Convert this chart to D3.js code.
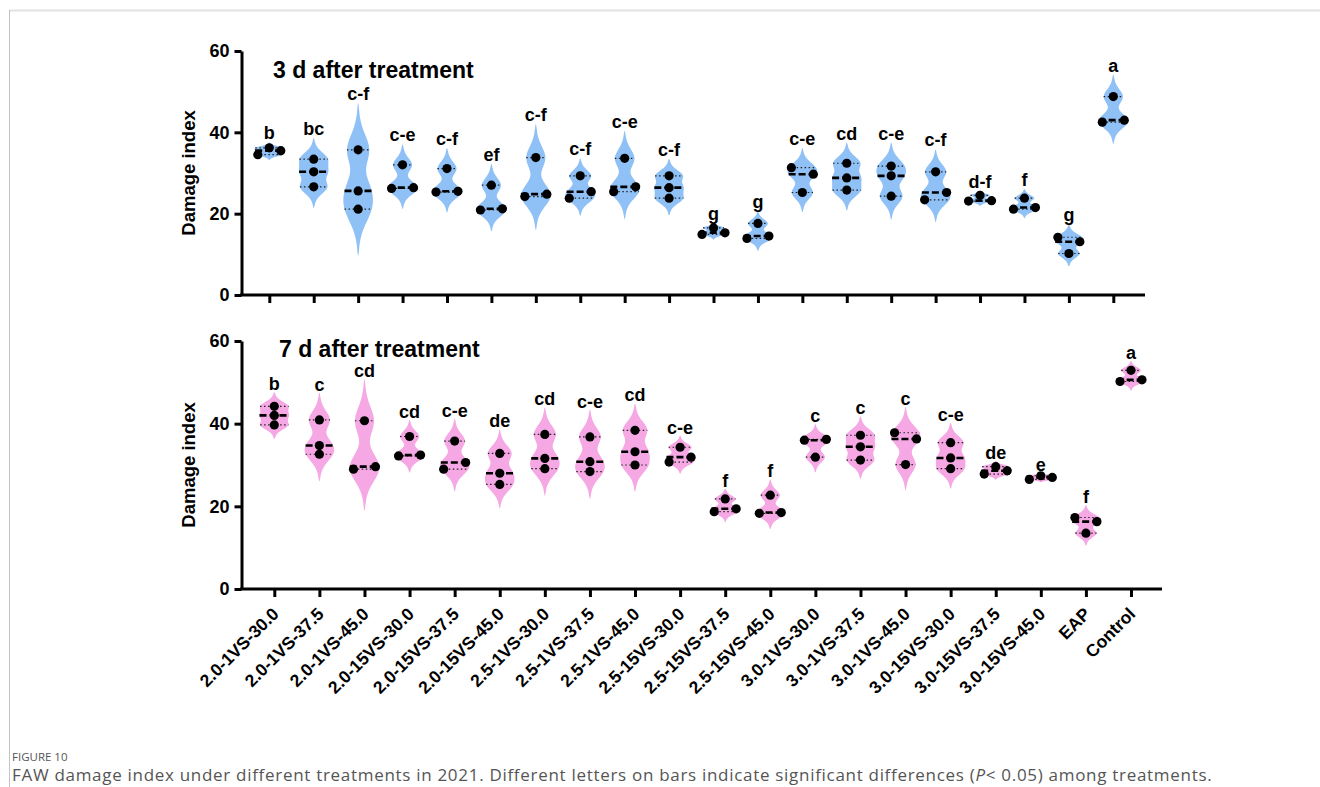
<!DOCTYPE html>
<html lang="en">
<head>
    <meta charset="UTF-8">
    <title>FAW damage index 2021</title>
    <script src="https://d3js.org/d3.v7.min.js"></script>
    <style>
        body { margin: 0; background: #fff; }
        svg { display: block; }
        .axis path, .axis line { stroke: #000; stroke-width: 3; }
        .axis text { font-family: "Liberation Sans", Arial, sans-serif; font-weight: bold; font-size: 18px; fill: #000; }
        .xlab text { font-size: 17.5px; }
        .letter { font-family: "Liberation Sans", Arial, sans-serif; font-weight: bold; font-size: 18px; }
        .ptitle { font-family: "Liberation Sans", Arial, sans-serif; font-weight: bold; font-size: 23px; }
        .ylab { font-family: "Liberation Sans", Arial, sans-serif; font-weight: bold; font-size: 18.5px; }
        .caption { font-family: "Open Sans", sans-serif; fill: #555; }
    </style>
</head>
<body>
<div id="chart"></div>
<script>
// treatments, in the order of the x axis
var categories = ["2.0-1VS-30.0", "2.0-1VS-37.5", "2.0-1VS-45.0", "2.0-15VS-30.0", "2.0-15VS-37.5",
    "2.0-15VS-45.0", "2.5-1VS-30.0", "2.5-1VS-37.5", "2.5-1VS-45.0", "2.5-15VS-30.0",
    "2.5-15VS-37.5", "2.5-15VS-45.0", "3.0-1VS-30.0", "3.0-1VS-37.5", "3.0-1VS-45.0",
    "3.0-15VS-30.0", "3.0-15VS-37.5", "3.0-15VS-45.0", "EAP", "Control"];

// damage index, 3 replicates each
var day3Values = [
    [34.5, 36.2, 35.5], [33.4, 30.3, 26.6], [35.7, 25.6, 21.1], [32.0, 26.2, 26.4], [31.1, 25.3, 25.5],
    [27.0, 20.9, 21.2], [33.8, 24.2, 24.8], [29.3, 23.8, 25.4], [33.6, 25.4, 26.6], [29.3, 26.4, 23.8],
    [14.9, 16.5, 15.3], [17.6, 13.9, 14.5], [31.3, 29.7, 25.2], [32.4, 28.8, 25.8], [31.7, 29.3, 24.3],
    [23.4, 30.3, 25.2], [23.1, 24.5, 23.2], [21.1, 23.8, 21.5], [14.2, 13.1, 10.2], [42.5, 48.8, 43.0]
];
var day7Values = [
    [44.2, 42.0, 39.7], [40.9, 34.7, 32.6], [29.0, 40.7, 29.6], [32.2, 36.9, 32.4], [29.0, 35.8, 30.6],
    [32.8, 28.0, 25.3], [37.4, 31.6, 29.1], [36.8, 30.8, 28.4], [38.4, 33.2, 30.0], [30.7, 34.3, 31.9],
    [18.7, 21.8, 19.4], [18.3, 22.7, 18.5], [36.0, 31.9, 36.2], [37.2, 34.4, 31.2], [37.8, 30.1, 36.3],
    [35.4, 31.7, 29.1], [27.8, 29.6, 28.6], [26.5, 27.4, 27.0], [17.3, 13.5, 16.3], [50.2, 52.9, 50.6]
];

// significance letters
var day3Letters = ["b", "bc", "c-f", "c-e", "c-f", "ef", "c-f", "c-f", "c-e", "c-f",
    "g", "g", "c-e", "cd", "c-e", "c-f", "d-f", "f", "g", "a"];
var day7Letters = ["b", "c", "cd", "cd", "c-e", "de", "cd", "c-e", "cd", "c-e",
    "f", "f", "c", "c", "c", "c-e", "de", "e", "f", "a"];

var yTicks = [0, 20, 40, 60];

var width = 1320, height = 787;
var axisX = 241.5;
var halfMax = 13;

var svg = d3.select("#chart").append("svg")
    .attr("width", width)
    .attr("height", height);

svg.append("rect").attr("width", width).attr("height", height).attr("fill", "#fff");

// frame lines of the figure box
svg.append("line").attr("x1", 9).attr("x2", width).attr("y1", 10.5).attr("y2", 10.5)
    .attr("stroke", "#e2e2e2").attr("stroke-width", 2);
svg.append("line").attr("x1", 9.5).attr("x2", 9.5).attr("y1", 10).attr("y2", height)
    .attr("stroke", "#c4c4c4").attr("stroke-width", 1);

// gaussian kde, narrow kernel, tails reach ~1.8 scott bandwidths past the data
function makeViolin(vals) {
    var sd = d3.deviation(vals);
    var scott = 1.06 * sd * Math.pow(vals.length, -0.2);
    var h = 0.5 * scott;
    var mn = d3.min(vals), mx = d3.max(vals);
    var lo = mn - 1.8 * scott, hi = mx + 1.8 * scott;
    function dens(t) {
        return d3.sum(vals, function(v) { return Math.exp(-0.5 * Math.pow((t - v) / h, 2)); });
    }
    var ts = d3.range(0, 121).map(function(i) { return lo + (hi - lo) * i / 120; });
    var dmax = d3.max(ts, dens);
    function halfWidth(t) {
        var taper = 1;
        if (t < mn) taper = (t - lo) / (mn - lo);
        if (t > mx) taper = (hi - t) / (hi - mx);
        return halfMax * Math.pow(dens(t) / dmax, 0.75) + 1.8 * Math.sqrt(Math.max(taper, 0));
    }
    return {
        lo: lo, hi: hi,
        pts: ts.map(function(t) { return { t: t, w: halfWidth(t) }; }),
        halfWidth: halfWidth
    };
}

// spread points that overlap vertically, like the scatter in the original
function dotOffsets(vals, y) {
    var idx = vals.map(function(v, i) { return i; }).sort(function(a, b) { return vals[a] - vals[b]; });
    var groups = [], cur = [idx[0]];
    for (var k = 1; k < idx.length; k++) {
        if (Math.abs(y(vals[idx[k]]) - y(vals[idx[k - 1]])) < 8) cur.push(idx[k]);
        else { groups.push(cur); cur = [idx[k]]; }
    }
    groups.push(cur);
    var off = vals.map(function() { return 0; });
    var spread = { 1: [0], 2: [-11, 11], 3: [-11.5, 0, 11.5] };
    groups.forEach(function(g) {
        g.sort(function(a, b) { return a - b; });
        g.forEach(function(i, j) { off[i] = spread[g.length][j]; });
    });
    return off;
}

function drawPanel(cfg) {
    var y = d3.scaleLinear().domain([0, 60]).range([cfg.yBottom, cfg.yTop]);
    var x = d3.scalePoint().domain(categories).range([cfg.xFirst, cfg.xLast]);
    var g = svg.append("g");

    // violins
    categories.forEach(function(c, i) {
        var vals = cfg.values[i];
        var cx = x(c);
        var vio = makeViolin(vals);
        var area = d3.area()
            .y(function(d) { return y(d.t); })
            .x0(function(d) { return cx - d.w; })
            .x1(function(d) { return cx + d.w; })
            .curve(d3.curveBasis);
        g.append("path").datum(vio.pts).attr("d", area).attr("fill", cfg.color);

        var sorted = vals.slice().sort(d3.ascending);
        // quartiles (min / max for 3 replicates)
        [sorted[0], sorted[2]].forEach(function(q) {
            var w = vio.halfWidth(q);
            g.append("line")
                .attr("x1", cx - w).attr("x2", cx + w)
                .attr("y1", y(q)).attr("y2", y(q))
                .attr("stroke", "#222").attr("stroke-width", 1.2)
                .attr("stroke-dasharray", "1.5,2.5");
        });
        var med = d3.median(vals);
        var wm = vio.halfWidth(med);
        g.append("line")
            .attr("x1", cx - wm).attr("x2", cx + wm)
            .attr("y1", y(med)).attr("y2", y(med))
            .attr("stroke", "#000").attr("stroke-width", 2.6)
            .attr("stroke-dasharray", "7,3");

        var off = dotOffsets(vals, y);
        g.selectAll(null).data(vals).enter().append("circle")
            .attr("cx", function(d, j) { return cx + off[j]; })
            .attr("cy", function(d) { return y(d); })
            .attr("r", 4.6)
            .attr("fill", "#000");

        g.append("text").attr("class", "letter")
            .attr("x", cx)
            .attr("y", y(vio.hi) - cfg.letterGap)
            .attr("text-anchor", "middle")
            .text(cfg.letters[i]);
    });

    // y axis
    g.append("g").attr("class", "axis")
        .attr("transform", "translate(" + axisX + ",0)")
        .call(d3.axisLeft(y).tickValues(yTicks).tickSize(7).tickSizeOuter(0).tickPadding(5));

    // x axis
    var xa = g.append("g").attr("class", "axis" + (cfg.tickLabels ? " xlab" : ""))
        .attr("transform", "translate(0," + cfg.yBottom + ")")
        .call(d3.axisBottom(x).tickSize(8).tickSizeOuter(0));
    xa.select(".domain").remove();
    g.append("line")
        .attr("x1", axisX - 1.5).attr("x2", cfg.axisRight)
        .attr("y1", cfg.yBottom).attr("y2", cfg.yBottom)
        .attr("stroke", "#000").attr("stroke-width", 3);
    if (cfg.tickLabels) {
        xa.selectAll("text")
            .attr("y", null).attr("dy", null)
            .attr("text-anchor", "end")
            .attr("transform", "translate(5,26) rotate(-45)");
    } else {
        xa.selectAll("text").remove();
    }

    g.append("text").attr("class", "ptitle")
        .attr("x", cfg.titleX).attr("y", cfg.titleY)
        .text(cfg.title);

    g.append("text").attr("class", "ylab")
        .attr("transform", "translate(195," + (cfg.yTop + cfg.yBottom) / 2 + ") rotate(-90)")
        .attr("text-anchor", "middle")
        .text("Damage index");
}

drawPanel({
    values: day3Values, letters: day3Letters, color: "#8fc1f7",
    yTop: 51, yBottom: 295, xFirst: 269.3, xLast: 1113.3, axisRight: 1145,
    title: "3 d after treatment", titleX: 273, titleY: 78, letterGap: 3, tickLabels: false
});
drawPanel({
    values: day7Values, letters: day7Letters, color: "#f5a8e4",
    yTop: 341, yBottom: 589, xFirst: 274.3, xLast: 1131, axisRight: 1162,
    title: "7 d after treatment", titleX: 279, titleY: 357, letterGap: 2, tickLabels: true
});

// caption
svg.append("text").attr("class", "caption")
    .attr("x", 12).attr("y", 761)
    .attr("font-size", 11.5)
    .text("FIGURE 10");
var cap = svg.append("text").attr("class", "caption")
    .attr("x", 12).attr("y", 781)
    .attr("font-size", 17)
    .attr("letter-spacing", 0.7);
cap.append("tspan").text("FAW damage index under different treatments in 2021. Different letters on bars indicate significant differences (");
cap.append("tspan").attr("font-style", "italic").text("P");
cap.append("tspan").text("< 0.05) among treatments.");
</script>
</body>
</html>
